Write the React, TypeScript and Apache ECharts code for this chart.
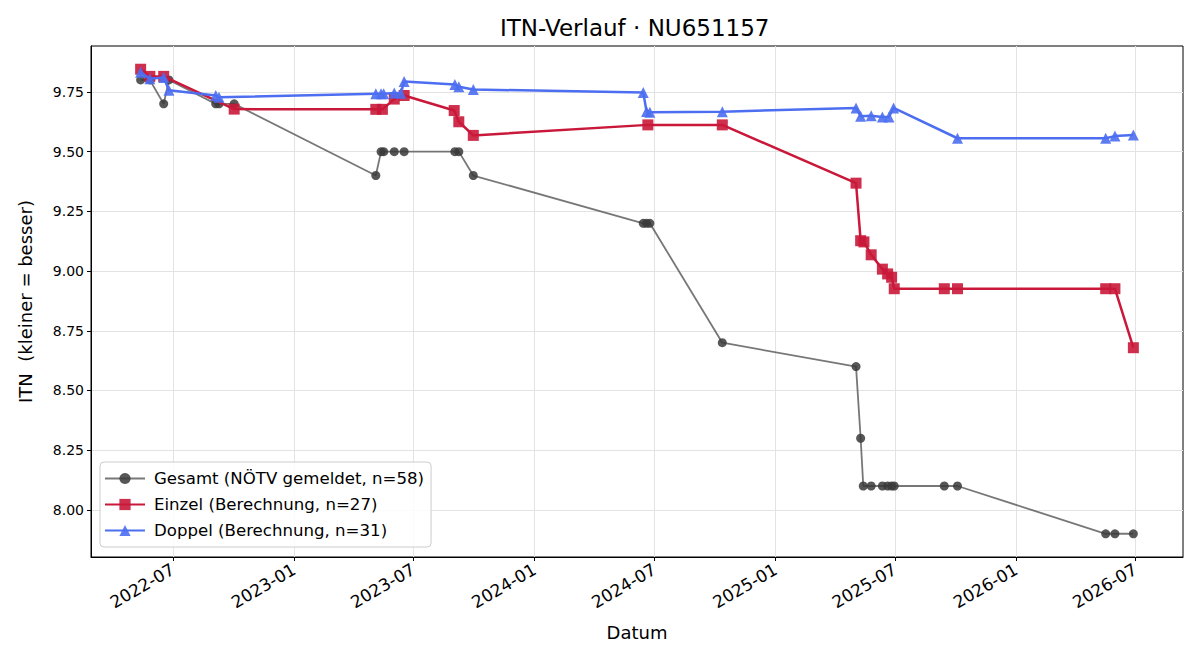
import React, { useEffect, useRef } from 'react';
import * as echarts from 'echarts';

// ---- Data ----
const gesamtDates = [
  '2022-05-13', '2022-05-27', '2022-06-17', '2022-06-25', '2022-09-04', '2022-09-09', '2022-10-02',
  '2023-05-05', '2023-05-13', '2023-05-17', '2023-06-02', '2023-06-17', '2023-09-02', '2023-09-08', '2023-09-30',
  '2024-06-14', '2024-06-19', '2024-06-24', '2024-10-12',
  '2025-05-03', '2025-05-10', '2025-05-14', '2025-05-26', '2025-06-12', '2025-06-20', '2025-06-26', '2025-06-30',
  '2025-09-14', '2025-10-04', '2026-05-17', '2026-05-31', '2026-06-28',
];
const gesamtValues = [
  9.80, 9.80, 9.70, 9.80, 9.70, 9.70, 9.70,
  9.40, 9.50, 9.50, 9.50, 9.50, 9.50, 9.50, 9.40,
  9.20, 9.20, 9.20, 8.70,
  8.60, 8.30, 8.10, 8.10, 8.10, 8.10, 8.10, 8.10,
  8.10, 8.10, 7.90, 7.90, 7.90,
];

const einzelDates = [
  '2022-05-13', '2022-05-27', '2022-06-17', '2022-10-02',
  '2023-05-05', '2023-05-15', '2023-06-02', '2023-06-17', '2023-09-01', '2023-09-08', '2023-09-30',
  '2024-06-21', '2024-10-12',
  '2025-05-03', '2025-05-10', '2025-05-15', '2025-05-26', '2025-06-12', '2025-06-20', '2025-06-26', '2025-06-30',
  '2025-09-14', '2025-10-04', '2026-05-17', '2026-05-31', '2026-06-28',
];
const einzelValues = [
  9.845, 9.815, 9.815, 9.678,
  9.677, 9.677, 9.720, 9.735, 9.672, 9.625, 9.568,
  9.612, 9.612,
  9.368, 9.127, 9.122, 9.068, 9.008, 8.988, 8.974, 8.926,
  8.926, 8.926, 8.926, 8.926, 8.679,
];

const doppelDates = [
  '2022-05-13', '2022-05-27', '2022-06-17', '2022-06-25', '2022-09-04', '2022-09-09',
  '2023-05-05', '2023-05-13', '2023-05-17', '2023-06-02', '2023-06-12', '2023-06-17',
  '2023-09-02', '2023-09-08', '2023-09-30',
  '2024-06-14', '2024-06-19', '2024-06-24', '2024-10-12',
  '2025-05-03', '2025-05-10', '2025-05-26', '2025-06-12', '2025-06-22', '2025-06-29',
  '2025-10-04', '2026-05-17', '2026-05-31', '2026-06-28',
];
const doppelValues = [
  9.832, 9.805, 9.810, 9.757, 9.735, 9.728,
  9.742, 9.742, 9.742, 9.745, 9.744, 9.794,
  9.781, 9.772, 9.760,
  9.748, 9.668, 9.665, 9.667,
  9.683, 9.648, 9.650, 9.645, 9.645, 9.683,
  9.556, 9.556, 9.565, 9.570,
];

const seriesNames = [
  'Gesamt (NÖTV gemeldet, n=58)',
  'Einzel (Berechnung, n=27)',
  'Doppel (Berechnung, n=31)',
];

const xTickDates = [
  '2022-07-01', '2023-01-01', '2023-07-01', '2024-01-01', '2024-07-01',
  '2025-01-01', '2025-07-01', '2026-01-01', '2026-07-01',
];
const yTicks = [8.0, 8.25, 8.5, 8.75, 9.0, 9.25, 9.5, 9.75];

const toPairs = (dates: string[], values: number[]) =>
  dates.map((d, i) => [Date.parse(d), values[i]]);

export default function App() {
  const ref = useRef<HTMLDivElement>(null);

  useEffect(() => {
    const chart = echarts.init(ref.current!, null, { renderer: 'svg' });

    const allDates = [...gesamtDates, ...einzelDates, ...doppelDates].map((d) => Date.parse(d));
    const allVals = [...gesamtValues, ...einzelValues, ...doppelValues];
    const xMinD = Math.min(...allDates);
    const xMaxD = Math.max(...allDates);
    const xPad = (xMaxD - xMinD) * 0.05;
    const yMinD = Math.min(...allVals);
    const yMaxD = Math.max(...allVals);
    const yPad = (yMaxD - yMinD) * 0.05;

    const font = 'DejaVu Sans';
    const xTicks = xTickDates.map((d) => Date.parse(d));

    const option: any = {
      animation: false,
      backgroundColor: '#ffffff',
      textStyle: { fontFamily: font },
      title: {
        text: 'ITN-Verlauf · NU651157',
        left: 500,
        top: 16,
        padding: 0,
        textStyle: { fontFamily: font, fontSize: 23, fontWeight: 'normal', color: '#000' },
      },
      grid: {
        left: 91,
        right: 17,
        top: 46,
        bottom: 103,
        show: true,
        borderColor: '#000',
        borderWidth: 1,
        backgroundColor: 'transparent',
      },
      legend: {
        orient: 'vertical',
        left: 100,
        top: 462,
        padding: [8, 7, 8, 4],
        itemWidth: 40,
        itemHeight: 14,
        itemGap: 9,
        borderColor: '#cccccc',
        borderWidth: 1,
        borderRadius: 4,
        backgroundColor: 'rgba(255,255,255,0.85)',
        textStyle: { fontFamily: font, fontSize: 16.6, color: '#000', padding: [0, 0, 0, 4] },
        data: seriesNames,
      },
      xAxis: {
        type: 'value',
        min: xMinD - xPad,
        max: xMaxD + xPad,
        name: 'Datum',
        nameLocation: 'middle',
        nameGap: 66,
        nameTextStyle: { fontFamily: font, fontSize: 18, color: '#000' },
        axisLine: { show: true, onZero: false, lineStyle: { color: '#000', width: 1 } },
        axisTick: { show: true, inside: false, length: 4, customValues: xTicks, lineStyle: { color: '#000' } },
        axisLabel: {
          customValues: xTicks,
          rotate: 30,
          fontFamily: font,
          fontSize: 17,
          color: '#000',
          margin: 11,
          hideOverlap: false,
          formatter: (v: number) => {
            const d = new Date(v);
            const m = d.getUTCMonth() + 1;
            return `${d.getUTCFullYear()}-${m < 10 ? '0' + m : m}`;
          },
        },
        splitLine: { show: true, lineStyle: { color: '#e3e3e3', width: 1 } },
      },
      yAxis: {
        type: 'value',
        min: yMinD - yPad,
        max: yMaxD + yPad,
        name: 'ITN  (kleiner = besser)',
        nameLocation: 'middle',
        nameGap: 57,
        nameTextStyle: { fontFamily: font, fontSize: 18, color: '#000' },
        axisLine: { show: true, onZero: false, lineStyle: { color: '#000', width: 1 } },
        axisTick: { show: true, inside: false, length: 4, customValues: yTicks, lineStyle: { color: '#000' } },
        axisLabel: {
          customValues: yTicks,
          fontFamily: font,
          fontSize: 14,
          color: '#000',
          margin: 7,
          formatter: (v: number) => v.toFixed(2),
        },
        splitLine: { show: true, lineStyle: { color: '#e3e3e3', width: 1 } },
      },
      series: [
        {
          name: seriesNames[0],
          type: 'line',
          data: toPairs(gesamtDates, gesamtValues),
          symbol: 'circle',
          symbolSize: 9,
          lineStyle: { color: '#555555', width: 1.8, opacity: 0.8 },
          itemStyle: { color: '#3a3a3a', opacity: 0.85 },
          z: 2,
        },
        {
          name: seriesNames[1],
          type: 'line',
          data: toPairs(einzelDates, einzelValues),
          symbol: 'rect',
          symbolSize: 11,
          lineStyle: { color: '#C9183A', width: 2.5 },
          itemStyle: { color: '#C9183A', opacity: 0.9 },
          z: 3,
        },
        {
          name: seriesNames[2],
          type: 'line',
          data: toPairs(doppelDates, doppelValues),
          symbol: 'triangle',
          symbolSize: 11,
          lineStyle: { color: '#4D6EF0', width: 2.5 },
          itemStyle: { color: '#4D6EF0', opacity: 0.9 },
          z: 4,
        },
      ],
    };

    chart.setOption(option);
    return () => chart.dispose();
  }, []);

  return (
    <div
      ref={ref}
      style={{ position: 'absolute', left: 0, top: 0, width: 1200, height: 660 }}
    />
  );
}
